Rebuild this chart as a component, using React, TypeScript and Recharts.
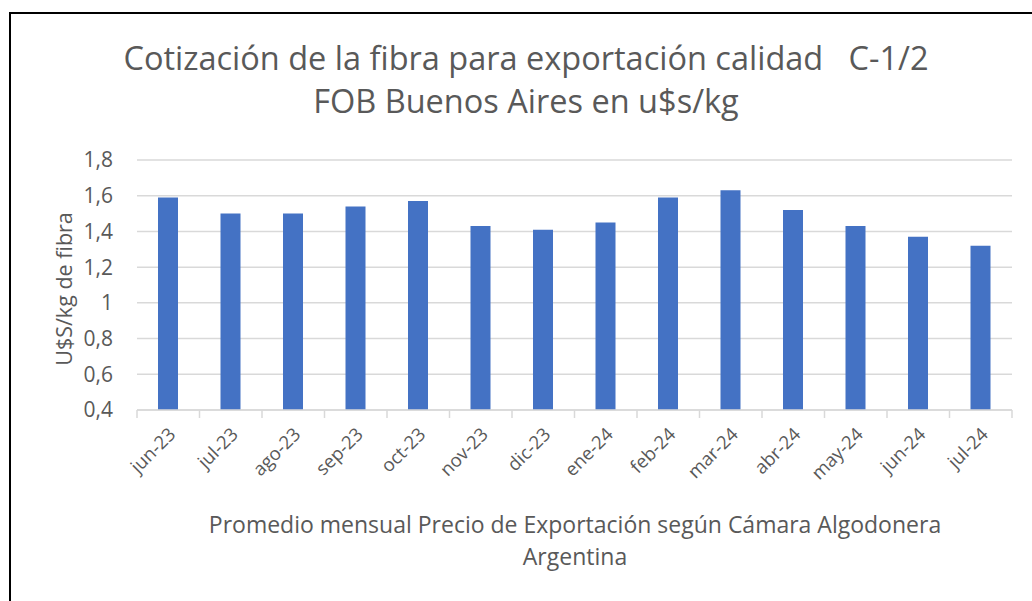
import React from "react";
import { BarChart, Bar, XAxis, YAxis, CartesianGrid } from "recharts";

const categories = ["jun-23", "jul-23", "ago-23", "sep-23", "oct-23", "nov-23", "dic-23", "ene-24", "feb-24", "mar-24", "abr-24", "may-24", "jun-24", "jul-24"];
const prices = [1.59, 1.5, 1.5, 1.54, 1.57, 1.43, 1.41, 1.45, 1.59, 1.63, 1.52, 1.43, 1.37, 1.32];
const yTicks = [0.4, 0.6, 0.8, 1, 1.2, 1.4, 1.6, 1.8];

const titleLine1 = "Cotización de la fibra para exportación calidad   C-1/2";
const titleLine2 = "FOB Buenos Aires en u$s/kg";
const yTitle = "U$S/kg de fibra";
const xTitleLine1 = "Promedio mensual Precio de Exportación según Cámara Algodonera";
const xTitleLine2 = "Argentina";

const data = categories.map((c, i) => ({ month: c, price: prices[i] }));

const FONT = "'Open Sans', sans-serif";
const TEXT = "#595959";
const GRID = "#d9d9d9";

const fmt = (v: number) => String(v).replace(".", ",");

const XTick = (props: any) => {
  const { x, y, payload, index } = props;
  const half = payload && typeof payload.offset === "number" && payload.offset > 0 ? payload.offset : 31.25;
  const isLast = index === categories.length - 1;
  const ax = x + 4;
  const ay = y + 19;
  return (
    <g>
      <line x1={x - half} y1={y - 2} x2={x - half} y2={y + 6} stroke={GRID} strokeWidth={1.5} />
      {isLast && <line x1={x + half} y1={y - 2} x2={x + half} y2={y + 6} stroke={GRID} strokeWidth={1.5} />}
      <text
        x={ax}
        y={ay}
        textAnchor="end"
        fill={TEXT}
        fontSize={18.5}
        fontFamily={FONT}
        dy="0.35em"
        transform={`rotate(-45, ${ax}, ${ay})`}
      >
        {payload.value}
      </text>
    </g>
  );
};

export default function App() {
  return (
    <div style={{ position: "absolute", left: 0, top: 0, width: 1032, height: 601, background: "#fff", overflow: "hidden" }}>
      <div
        style={{
          position: "absolute",
          left: 9,
          top: 12,
          width: 1040,
          height: 620,
          borderTop: "2px solid #000",
          borderLeft: "2px solid #000",
        }}
      />
      <div style={{ position: "absolute", left: 0, top: 0 }}>
        <BarChart width={1032} height={601} data={data} margin={{ top: 160, right: 20, bottom: 131, left: 0 }}>
          <CartesianGrid vertical={false} stroke={GRID} strokeWidth={1.5} />
          <XAxis
            dataKey="month"
            axisLine={{ stroke: GRID, strokeWidth: 1.5 }}
            tickLine={false}
            tickSize={0}
            interval={0}
            tick={<XTick />}
            height={60}
          />
          <YAxis
            domain={[0.4, 1.8]}
            ticks={yTicks}
            width={137}
            axisLine={false}
            tickLine={false}
            tickSize={0}
            tickMargin={24}
            tickFormatter={fmt}
            tick={{ fill: TEXT, fontSize: 21, fontFamily: FONT }}
          />
          <Bar dataKey="price" fill="#4472C4" barSize={20} isAnimationActive={false} />
        </BarChart>
      </div>
      <div
        style={{
          position: "absolute",
          left: 0,
          width: 1052,
          top: 36,
          textAlign: "center",
          color: TEXT,
          fontFamily: FONT,
          fontSize: 32.5,
          lineHeight: "43px",
          whiteSpace: "pre",
        }}
      >
        <div>{titleLine1}</div>
        <div>{titleLine2}</div>
      </div>
      <div
        style={{
          position: "absolute",
          left: 63,
          top: 289,
          transform: "translate(-50%, -50%) rotate(-90deg)",
          color: TEXT,
          fontFamily: FONT,
          fontSize: 21.5,
          whiteSpace: "nowrap",
        }}
      >
        {yTitle}
      </div>
      <div
        style={{
          position: "absolute",
          left: 0,
          width: 1150,
          top: 508,
          textAlign: "center",
          color: TEXT,
          fontFamily: FONT,
          fontSize: 23,
          lineHeight: "32px",
        }}
      >
        <div>{xTitleLine1}</div>
        <div>{xTitleLine2}</div>
      </div>
    </div>
  );
}
